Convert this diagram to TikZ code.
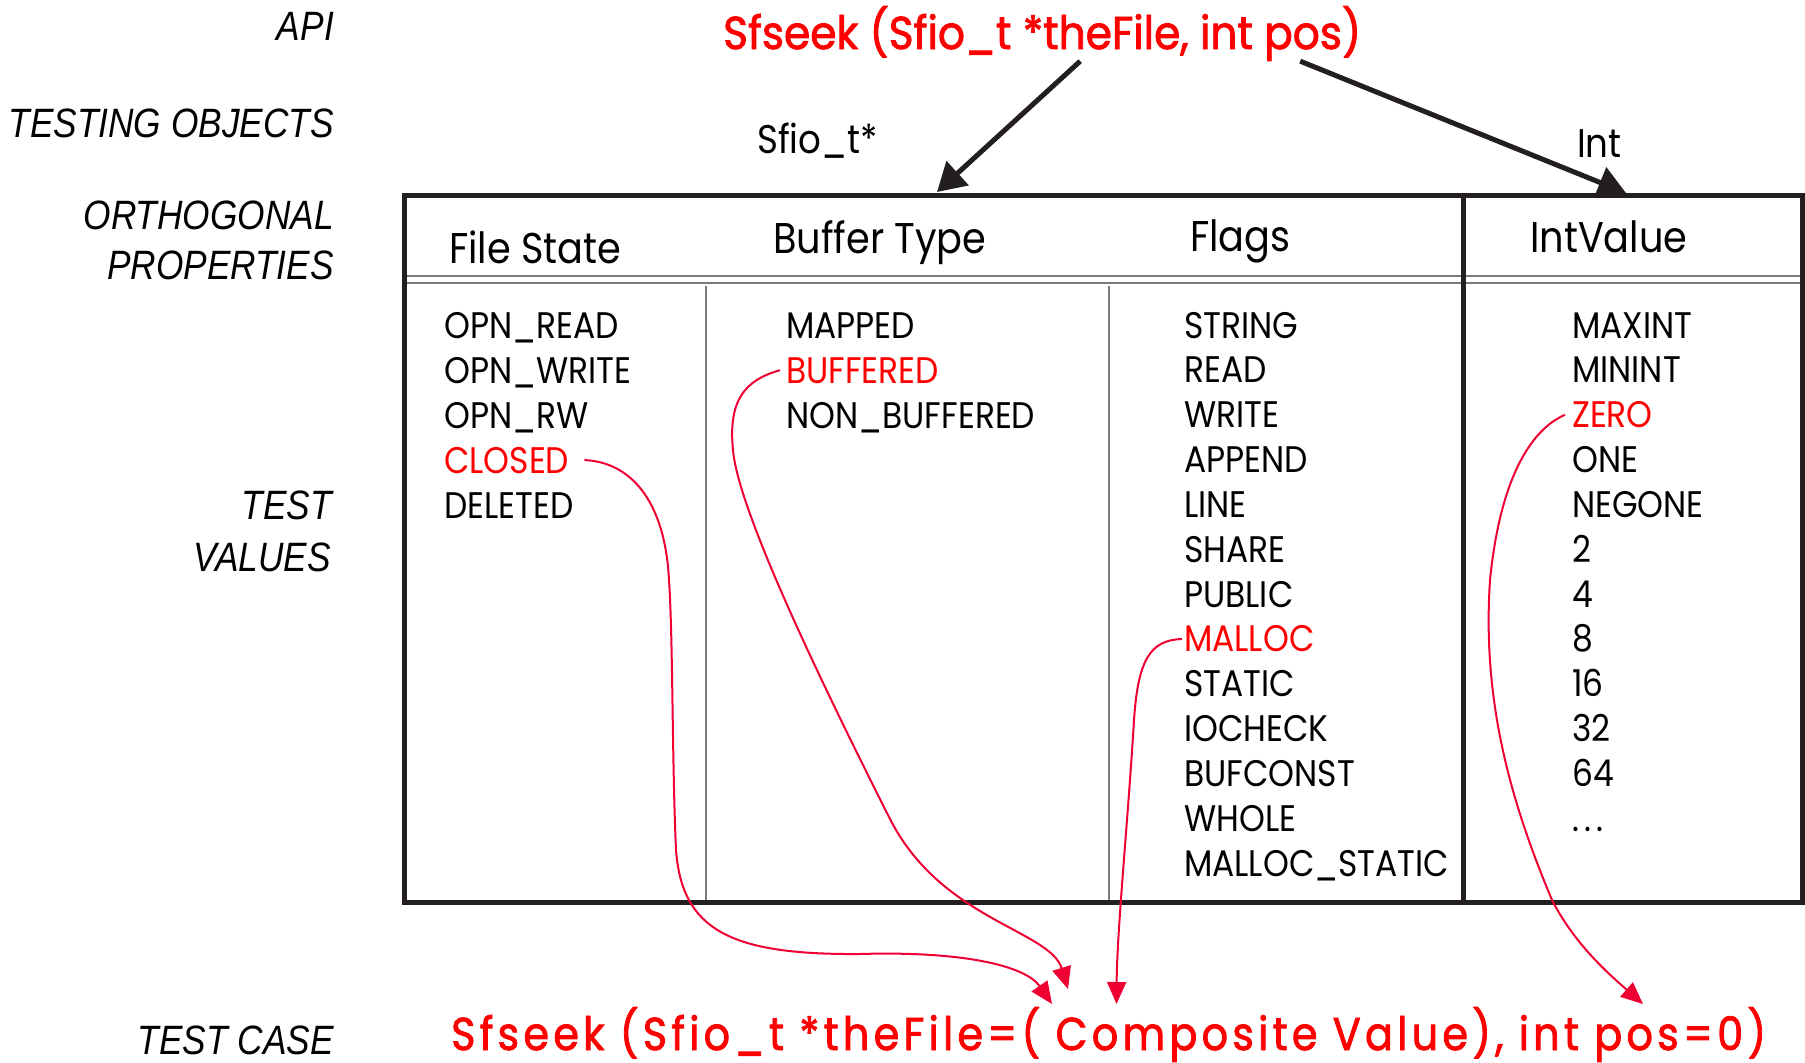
\documentclass[tikz,border=0pt]{standalone}
\usepackage{fontspec}
\usetikzlibrary{arrows.meta}

% geometric sans for the table, italic grotesque for the row captions
\newfontfamily\geo[FakeStretch=0.89]{Poppins}
\newfontfamily\geobold[FakeStretch=0.88,FakeBold=1.7]{Poppins}
\newfontfamily\capfont[FakeStretch=0.86]{Liberation Sans}

\definecolor{sigred}{HTML}{FF0000}
\definecolor{linkred}{HTML}{EE0033}
\definecolor{ink}{HTML}{231F20}
\definecolor{rulegrey}{HTML}{7A7A7A}

\tikzset{
  rowcap/.style={anchor=base east, inner sep=0pt, font=\capfont\itshape\fontsize{41}{41}\selectfont},
  val/.style={anchor=base west, inner sep=0pt, font=\geo\fontsize{37}{37}\selectfont},
  pick/.style={val, text=sigred},
  colhead/.style={anchor=base west, inner sep=0pt, font=\geo\fontsize{43}{43}\selectfont},
  objtype/.style={anchor=base west, inner sep=0pt, font=\geo\fontsize{40}{40}\selectfont},
  signature/.style={anchor=base west, inner sep=0pt, text=sigred, font=\geobold\fontsize{46}{46}\selectfont},
  frame/.style={draw=ink, line width=5pt},
  thinrule/.style={draw=rulegrey, line width=1.3pt},
  apiarrow/.style={draw=ink, line width=5pt, -{Triangle[length=28pt,width=32pt]}},
  pickarrow/.style={draw=linkred, line width=2pt, -{Triangle[length=22pt,width=19pt]}},
}

\begin{document}
\begin{tikzpicture}[x=1pt,y=-1pt]
\useasboundingbox (0,0) rectangle (1805,1063);

% row captions
\node[rowcap] (capApi)  at (334,40)  {API};
\node[rowcap] (capObj)  at (334,137) {TESTING OBJECTS};
\node[rowcap] (capOrth) at (334,229) {ORTHOGONAL};
\node[rowcap] (capProp) at (334,279) {PROPERTIES};
\node[rowcap] (capTest) at (332,519) {TEST};
\node[rowcap] (capVal)  at (331,571) {VALUES};
\node[rowcap] (capCase) at (334,1054) {TEST CASE};

% function under test
\node[signature] (api) at (723,49)
  {\resizebox{638pt}{\height}{Sfseek (Sfio\_t *theFile, int pos)}};

% object types
\node[objtype] (tFile) at (757,153) {Sfio\_t*};
\node[objtype] (tInt)  at (1577,157) {Int};

% table frame, header rules and column separators
\draw[thinrule] (407,276) -- (1800,276);
\draw[thinrule] (407,283) -- (1800,283);
\draw[thinrule] (706,286) -- (706,900);
\draw[thinrule] (1109,286) -- (1109,900);
\draw[frame] (404.5,195) rectangle (1802.5,902.5);
\draw[frame] (1463,195) -- (1463,902.5);

% column headings
\node[colhead] (hState) at (449,263)  {File State};
\node[colhead] (hBuf)   at (773,253)  {Buffer Type};
\node[colhead] (hFlags) at (1190,251) {Flags};
\node[colhead] (hInt)   at (1530,252) {IntValue};

% File State values
\node[val]  (fs1) at (444,338)   {OPN\_READ};
\node[val]  (fs2) at (444,383)   {OPN\_WRITE};
\node[val]  (fs3) at (444,428)   {OPN\_RW};
\node[pick] (fs4) at (444,473)   {CLOSED};
\node[val]  (fs5) at (444,518)   {DELETED};

% Buffer Type values
\node[val]  (bt1) at (786,338) {MAPPED};
\node[pick] (bt2) at (786,383) {BUFFERED};
\node[val]  (bt3) at (786,428) {NON\_BUFFERED};

% Flags values
\foreach \txt [count=\i from 0] in {STRING,READ,WRITE,APPEND,LINE,SHARE,PUBLIC}
  \node[val] (fl\i) at (1184,338+44.85*\i) {\txt};
\node[pick] (fl7) at (1184,338+44.85*7) {MALLOC};
\foreach \txt [count=\i from 8] in {STATIC,IOCHECK,BUFCONST,WHOLE,MALLOC\_STATIC}
  \node[val] (fl\i) at (1184,338+44.85*\i) {\txt};

% IntValue values
\node[val]  (iv0) at (1572,338)          {MAXINT};
\node[val]  (iv1) at (1572,338+44.85)    {MININT};
\node[pick] (iv2) at (1572,338+44.85*2)  {ZERO};
\foreach \txt [count=\i from 3] in {ONE,NEGONE,2,4,8,16,32,64,{.\kern5pt.\kern5pt.}}
  \node[val] (iv\i) at (1572,338+44.85*\i) {\txt};

% composed test case
\node[signature] (case) at (451,1050)
  {\resizebox{1315pt}{\height}{\addfontfeature{LetterSpace=9}Sfseek (Sfio\_t *theFile=( Composite Value), int pos=0)}};

% where the API arrows land on the table
\coordinate (objFile) at (937,192);
\coordinate (objInt)  at (1626,193);
\draw[apiarrow] ([xshift=38pt]api.south) -- (objFile);
\draw[apiarrow] ([xshift=258pt]api.south) -- (objInt);

% where the chosen values enter the test case
\coordinate (inClosed) at (1052,1004);
\coordinate (inBuf)    at (1068,989);
\coordinate (inMalloc) at (1116.5,1004);
\coordinate (inZero)   at (1643,1004);

\draw[pickarrow] ([xshift=15pt]fs4.east)
  .. controls (630,462) and (665,500) .. (669,580)
  .. controls (673,640) and (672,760) .. (676,850)
  .. controls (682,930) and (730,955) .. (860,954)
  .. controls (960,951) and (1025,965) .. (inClosed);
\draw[pickarrow] ([xshift=-6pt]bt2.west)
  .. controls (745,380) and (728,400) .. (733,450)
  .. controls (738,510) and (820,680) .. (889,817)
  .. controls (940,920) and (1050,930) .. (inBuf);
\draw[pickarrow] ([xshift=-2pt]fl7.west)
  .. controls (1150,640) and (1138,660) .. (1134,720)
  .. controls (1128,820) and (1117,930) .. (inMalloc);
\draw[pickarrow] ([xshift=-7pt]iv2.west)
  .. controls (1530,430) and (1500,480) .. (1490,580)
  .. controls (1482,700) and (1510,800) .. (1552,900)
  .. controls (1575,945) and (1610,975) .. (inZero);
\end{tikzpicture}
\end{document}
